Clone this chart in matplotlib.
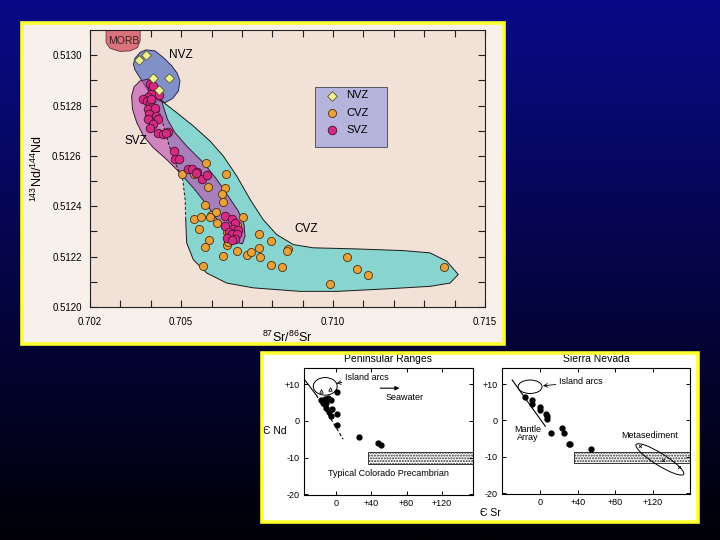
import matplotlib

matplotlib.use("Agg")
import matplotlib.pyplot as plt
import numpy as np
from matplotlib.colors import LinearSegmentedColormap
from matplotlib.patches import Ellipse, Polygon, Rectangle
from matplotlib.transforms import ScaledTranslation

plt.rcParams["font.family"] = ["Liberation Sans", "DejaVu Sans"]
plt.rcParams["mathtext.fontset"] = "custom"
plt.rcParams["mathtext.rm"] = "Liberation Sans"

# ---- main diagram: 87Sr/86Sr vs 143Nd/144Nd (Andes) ----
nvz_sr = [0.70362, 0.70384, 0.70408, 0.70461, 0.70428]
nvz_nd = [0.512981, 0.513001, 0.512911, 0.512910, 0.512861]

svz_sr = [0.70397, 0.70403, 0.70414, 0.70401, 0.70392, 0.70428, 0.70376, 0.70387,
          0.70397, 0.70403, 0.70392, 0.70414, 0.70394, 0.70416, 0.70392, 0.70425,
          0.70408, 0.70397, 0.70425, 0.70441, 0.70456, 0.70449, 0.70476, 0.70480,
          0.70494, 0.70524, 0.70537, 0.70553, 0.70568, 0.70584, 0.70549, 0.70644,
          0.70666, 0.70677, 0.70644, 0.70672, 0.70688, 0.70659, 0.70666, 0.70683,
          0.70650, 0.70677, 0.70666, 0.70406, 0.70400]
svz_nd = [0.512885, 0.512865, 0.512865, 0.512845, 0.512832, 0.512841, 0.512825, 0.512818,
          0.512812, 0.512794, 0.512785, 0.512792, 0.512765, 0.512759, 0.512745, 0.512745,
          0.512728, 0.512712, 0.512692, 0.512688, 0.512696, 0.512690, 0.512619, 0.512589,
          0.512589, 0.512549, 0.512549, 0.512536, 0.512509, 0.512523, 0.512531, 0.512361,
          0.512350, 0.512334, 0.512321, 0.512310, 0.512305, 0.512297, 0.512288, 0.512288,
          0.512275, 0.512271, 0.512268, 0.512878, 0.512825]

cvz_sr = [0.70504, 0.70542, 0.70582, 0.70589, 0.70647, 0.70644, 0.70633, 0.70637,
          0.70578, 0.70542, 0.70564, 0.70597, 0.70614, 0.70595, 0.70617, 0.70704,
          0.70560, 0.70593, 0.70578, 0.70650, 0.70661, 0.70637, 0.70685, 0.70718,
          0.70729, 0.70757, 0.70757, 0.70760, 0.70796, 0.70796, 0.70831, 0.70853,
          0.71045, 0.71078, 0.71114, 0.70990, 0.71365, 0.70573, 0.70683, 0.70650,
          0.70847, 0.70655]
cvz_nd = [0.512529, 0.512529, 0.512570, 0.512475, 0.512530, 0.512471, 0.512450, 0.512418,
          0.512405, 0.512350, 0.512357, 0.512365, 0.512379, 0.512357, 0.512332, 0.512358,
          0.512308, 0.512265, 0.512239, 0.512248, 0.512273, 0.512204, 0.512221, 0.512208,
          0.512219, 0.512289, 0.512233, 0.512199, 0.512261, 0.512168, 0.512159, 0.512232,
          0.512198, 0.512149, 0.512126, 0.512093, 0.512159, 0.512163, 0.512324, 0.512297,
          0.512221, 0.512257]

# field outlines
morb_sr = [0.70253, 0.70253, 0.70266, 0.70299, 0.70332, 0.70356, 0.70365, 0.70365]
morb_nd = [0.51315, 0.51305, 0.513027, 0.513015, 0.513017, 0.51303, 0.513057, 0.51315]

nvz_zone_sr = [0.70343, 0.70348, 0.70365, 0.70384, 0.70414, 0.70441, 0.70469, 0.70487,
               0.70496, 0.70491, 0.70472, 0.70447, 0.70425, 0.70403, 0.70381, 0.70362, 0.70348]
nvz_zone_nd = [0.512964, 0.512987, 0.513011, 0.513021, 0.513017, 0.512991, 0.512958, 0.512928,
               0.512898, 0.512858, 0.512828, 0.512812, 0.512818, 0.512841, 0.512878, 0.512915, 0.512942]

svz_zone_sr = [0.70337, 0.70340, 0.70354, 0.70376, 0.70408, 0.70452, 0.70496, 0.70540,
               0.70584, 0.70622, 0.70655, 0.70681, 0.70702, 0.70710, 0.70707, 0.70688,
               0.70655, 0.70617, 0.70573, 0.70518, 0.70480, 0.70455, 0.70439, 0.70430,
               0.70414, 0.70392, 0.70365, 0.70345]
svz_zone_nd = [0.512838, 0.512785, 0.512732, 0.512679, 0.512633, 0.512586, 0.512533, 0.512473,
               0.512407, 0.512341, 0.512288, 0.512257, 0.512251, 0.512281, 0.512328, 0.512381,
               0.512440, 0.512507, 0.512573, 0.512639, 0.512692, 0.512745, 0.512805, 0.512858,
               0.512891, 0.512905, 0.512898, 0.512874]

cvz_edge_sr = [0.70411, 0.70436, 0.70485, 0.70540, 0.70595, 0.70639, 0.70683, 0.70727,
               0.70770, 0.70814, 0.70869, 0.70935, 0.71067, 0.71231, 0.71319, 0.71374,
               0.71412, 0.71385, 0.71319, 0.71176, 0.71012, 0.70891, 0.70738, 0.70650,
               0.70584, 0.70540, 0.70518, 0.70515]
cvz_edge_nd = [0.512836, 0.512818, 0.512772, 0.512719, 0.512659, 0.512599, 0.512520, 0.512427,
               0.512347, 0.512288, 0.512248, 0.512235, 0.512231, 0.512224, 0.512215, 0.512182,
               0.512129, 0.512095, 0.512082, 0.512072, 0.512062, 0.512062, 0.512076, 0.512095,
               0.512135, 0.512188, 0.512255, 0.512347]
cvz_dash_sr = [0.70515, 0.70513, 0.70505, 0.70485, 0.70461, 0.70436, 0.70411]
cvz_dash_nd = [0.512347, 0.512427, 0.512507, 0.512560, 0.512639, 0.512745, 0.512836]

# ---- lower panels: eSr vs eNd ----
pr_esr = [0.8, -17, -12.5, -8.7, -6.0, -14.4, -10.6, -11.4, -4.9, -7.6, 0.8, -6.0, 1.5, 26.1, 48.0, 50.7]
pr_end = [7.9, 5.6, 5.9, 6.2, 5.6, 4.8, 5.0, 3.6, 3.2, 2.3, 2.0, 1.2, -1.2, -4.3, -6.1, -6.5]
pr_arc_esr = [-17, -7]
pr_arc_end = [8.0, 8.6]

sn_esr = [-16, -8.9, -8.9, -0.7, 0, 6.4, 7.1, 7.1, 11.7, 23.1, 24.8, 30.2, 32, 54]
sn_end = [6.5, 5.5, 4.5, 3.6, 3.0, 1.8, 1.1, 0.5, -3.4, -2.1, -3.4, -6.4, -6.4, -7.9]
meta_esr = [106.5, 131.3, 148.3]
meta_end = [-7.1, -10.9, -12.9]

pr_mantle_esr = [-36, -22, 8.3]
pr_mantle_end = [11.4, 7.0, -5.0]
sn_mantle_esr = [-30.1, 5.3]
sn_mantle_end = [11.1, -1.6]

esr_ticks = [0, 40, 80, 120]
esr_labels = ["0", "+40", "+80", "+120"]
end_ticks = [10, 0, -10, -20]
end_labels = ["+10", "0", "-10", "-20"]

W, H = 720, 540
fig = plt.figure(figsize=(7.2, 5.4), dpi=100)

# slide background
bg = fig.add_axes([0, 0, 1, 1], zorder=-10)
cmap = LinearSegmentedColormap.from_list("slide", ["#000006", "#0a0a88"])
bg.imshow(np.linspace(0, 1, 256).reshape(-1, 1), aspect="auto", cmap=cmap,
          extent=[0, 1, 0, 1], origin="lower")
bg.axis("off")


def panel(x0, y0, x1, y1, face):
    fr = (x0 / W, 1 - y1 / H, (x1 - x0) / W, (y1 - y0) / H)
    fig.add_artist(Rectangle(fr[:2], fr[2], fr[3], transform=fig.transFigure,
                             facecolor=face, edgecolor="none", zorder=-5))
    fig.add_artist(Rectangle(fr[:2], fr[2], fr[3], transform=fig.transFigure,
                             fill=False, edgecolor="#ffff30", lw=2.6, zorder=10))


panel(22, 23, 504, 344, "#f8f1eb")
panel(262, 353, 698, 522, "white")

# ---------------- main chart ----------------
ax = fig.add_axes([90 / W, 1 - 307 / H, 395 / W, 277 / H])
ax.set_facecolor("#f1e1d6")
ax.set_xlim(0.702, 0.715)
ax.set_ylim(0.5120, 0.51310)

cvz_poly = np.column_stack([cvz_edge_sr + cvz_dash_sr[1:], cvz_edge_nd + cvz_dash_nd[1:]])
ax.add_patch(Polygon(cvz_poly, closed=True, facecolor="#88d4ce", edgecolor="none", zorder=1))
ax.plot(cvz_edge_sr, cvz_edge_nd, color="#1a1a1a", lw=0.7, zorder=4)
ax.plot(cvz_dash_sr, cvz_dash_nd, color="#1a1a1a", lw=0.7, ls=(0, (3, 2)), zorder=4)
ax.add_patch(Polygon(np.column_stack([morb_sr, morb_nd]), closed=True,
                     facecolor="#d9737c", edgecolor="#6a3040", lw=0.6, zorder=2))
ax.add_patch(Polygon(np.column_stack([nvz_zone_sr, nvz_zone_nd]), closed=True,
                     facecolor="#8290c8", edgecolor="#2a2a50", lw=0.7, zorder=2))
ax.add_patch(Polygon(np.column_stack([svz_zone_sr, svz_zone_nd]), closed=True,
                     facecolor=(0.74, 0.28, 0.68, 0.6), edgecolor="#3a1a3a", lw=0.7, zorder=3))

ax.scatter(nvz_sr, nvz_nd, marker="D", s=24, facecolor="#eef490", edgecolor="#555530",
           lw=0.6, zorder=6, label="NVZ")
ax.scatter(cvz_sr, cvz_nd, marker="o", s=34, facecolor="#e9a13a", edgecolor="#4a3010",
           lw=0.6, zorder=5, label="CVZ")
ax.scatter(svz_sr, svz_nd, marker="o", s=38, facecolor="#d42a82", edgecolor="#4a1030",
           lw=0.6, zorder=5, label="SVZ")

ax.text(0.7031, 0.513058, "MORB", fontsize=7.5, ha="center", va="center", color="#3a2020", zorder=7)
ax.text(0.7050, 0.51300, "NVZ", fontsize=8.5, ha="center", va="center")
ax.text(0.7035, 0.51266, "SVZ", fontsize=8.5, ha="center", va="center")
ax.text(0.7091, 0.51231, "CVZ", fontsize=8.5, ha="center", va="center")

# legend box as drawn in the source figure
ax.add_patch(Rectangle((0.5696, 0.5776), 0.1823, 0.2166, transform=ax.transAxes,
                       facecolor="#b6b4dc", edgecolor="#555566", lw=0.7, zorder=7))
leg = ax.legend(loc="upper left", bbox_to_anchor=(0.5987, 0.7816), fontsize=8, frameon=False,
                handlelength=1.0, handletextpad=0.8, borderpad=0, labelspacing=0.65,
                borderaxespad=0)
leg.set_zorder(8)

ax.set_xticks([0.702, 0.705, 0.710, 0.715])
ax.set_xticklabels(["0.702", "0.705", "0.710", "0.715"])
ax.set_xticks([0.703, 0.704, 0.706, 0.707, 0.708, 0.709, 0.711, 0.712, 0.713, 0.714], minor=True)
ax.set_yticks([0.5120, 0.5122, 0.5124, 0.5126, 0.5128, 0.5130])
ax.set_yticklabels(["0.5120", "0.5122", "0.5124", "0.5126", "0.5128", "0.5130"])
ax.set_yticks([0.5121, 0.5123, 0.5125, 0.5127, 0.5129], minor=True)
ax.tick_params(which="both", direction="in", top=True, right=True, length=5, width=0.8,
               labelsize=7, color="#222222")
ax.tick_params(axis="x", pad=7)
ax.tick_params(axis="y", pad=6)
for s in ax.spines.values():
    s.set_linewidth(0.8)
    s.set_color("#222222")
ax.set_xlabel(r"$^{87}$Sr/$^{86}$Sr", fontsize=9, labelpad=2)
ax.set_ylabel(r"$^{143}$Nd/$^{144}$Nd", fontsize=9, labelpad=5)

# ---------------- lower panels ----------------
ax1 = fig.add_axes([304 / W, 1 - 495 / H, 169 / W, 127 / H])
ax2 = fig.add_axes([502 / W, 1 - 494 / H, 188 / W, 126 / H])
ax1.set_xlim(-36, 155)
ax2.set_xlim(-41, 160)
for a in (ax1, ax2):
    a.set_ylim(-20.2, 14.4)
    a.set_xticks(esr_ticks)
    a.set_xticklabels(esr_labels)
    a.set_yticks(end_ticks)
    a.set_yticklabels(end_labels)
    a.tick_params(direction="in", top=True, right=True, length=3, width=0.7, labelsize=6.5, pad=3)
    for s in a.spines.values():
        s.set_linewidth(0.8)
    a.add_patch(Rectangle((36, -11.8), 200, 3.2, facecolor="white", edgecolor="#333333",
                          hatch="......", lw=0.7, zorder=1))

# Peninsular Ranges
ax1.set_title("Peninsular Ranges", fontsize=7.5, pad=4)
ax1.plot(pr_mantle_esr[:2], pr_mantle_end[:2], color="black", lw=0.8)
ax1.plot(pr_mantle_esr[1:], pr_mantle_end[1:], color="black", lw=0.8, ls=(0, (3, 2)))
ax1.add_patch(Ellipse((-12, 9.4), 27, 4.8, fill=False, edgecolor="black", lw=0.7))
ax1.plot(pr_esr, pr_end, "o", color="black", ms=3.5)
ax1.plot(pr_arc_esr, pr_arc_end, "^", color="black", mfc="white", ms=2.5, mew=0.6)
ax1.annotate("Island arcs", xy=(0.8, 10.2), xytext=(10, 11.8), fontsize=6.5, va="center",
             arrowprops=dict(arrowstyle="->", lw=0.6, color="black", shrinkA=0, shrinkB=0))
ax1.annotate("", xy=(75, 8.9), xytext=(47, 8.9),
             arrowprops=dict(arrowstyle="-|>", lw=0.8, color="black", mutation_scale=6))
ax1.text(78, 6.4, "Seawater", fontsize=6.5, ha="center", va="center")
ax1.text(59, -14.4, "Typical Colorado Precambrian", fontsize=6.5, ha="center", va="center")
ax1.text(-0.17, 0.5, "Є Nd", transform=ax1.transAxes, fontsize=7.5, ha="center", va="center")

# Sierra Nevada
ax2.set_title("Sierra Nevada", fontsize=7.5, pad=4)
ax2.plot(sn_mantle_esr, sn_mantle_end, color="black", lw=0.8)
ax2.add_patch(Ellipse((-11, 9.25), 25.6, 3.7, fill=False, edgecolor="black", lw=0.7))
ax2.plot(sn_esr, sn_end, "o", color="black", ms=3.5)
ax2.plot(meta_esr, meta_end, "x", color="black", ms=2, mew=0.6)
ax2.annotate("Island arcs", xy=(2.8, 9.5), xytext=(19.5, 10.6), fontsize=6.5, va="center",
             arrowprops=dict(arrowstyle="->", lw=0.6, color="black", shrinkA=0, shrinkB=0))
ax2.text(-14, -3.6, "Mantle\nArray", fontsize=6.5, ha="center", va="center", linespacing=0.9)
ax2.text(117, -4.1, "Metasediment", fontsize=6.5, ha="center", va="center")
ax2.add_patch(Ellipse((0, 0), 0.56, 0.12, angle=-32, fill=False, edgecolor="black", lw=0.7,
                      transform=fig.dpi_scale_trans + ScaledTranslation(127.8, -10.7, ax2.transData),
                      zorder=3))

fig.text(490 / W, 1 - 513 / H, "Є Sr", fontsize=7.5, ha="center", va="center")

fig.savefig("out.png", dpi=100)
